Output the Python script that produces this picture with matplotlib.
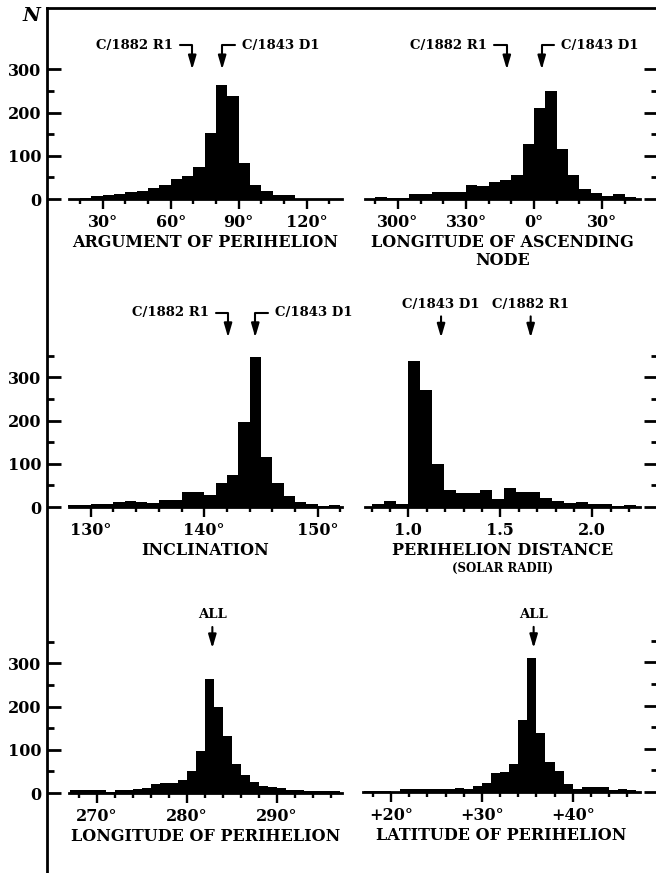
import numpy as np
import matplotlib
matplotlib.use("Agg")
import matplotlib.pyplot as plt
from matplotlib.ticker import FixedLocator, FuncFormatter

plt.rcParams["font.family"] = "DejaVu Serif"
plt.rcParams["font.weight"] = "bold"

# ---- histogram data: first bin edge, bin width, counts ----
omega_start, omega_step = 20, 5
omega_counts = [3, 7, 9, 12, 16, 19, 26, 33, 47, 54, 74, 153, 265, 239, 84, 33, 19, 9, 9]

node_start, node_step = -70, 5          # degrees, 290 deg written as -70
node_counts = [5, 2, 3, 11, 11, 17, 17, 17, 32, 30, 40, 44, 56, 128, 211, 251, 116, 56, 23, 13, 8, 11, 5]

incl_start, incl_step = 128, 1
incl_counts = [5, 5, 8, 6, 11, 14, 12, 10, 16, 16, 35, 35, 28, 56, 74, 196, 348, 115, 56, 25, 12, 6, 2, 5]

q_start, q_step = 0.805, 0.065          # solar radii
q_counts = [6, 14, 8, 339, 270, 100, 39, 33, 33, 39, 18, 44, 34, 34, 20, 14, 10, 12, 6, 6, 2, 5]

lperi_start, lperi_step = 267, 1
lperi_counts = [6, 6, 8, 6, 2, 8, 8, 10, 12, 20, 22, 22, 31, 50, 97, 265, 200, 133, 67, 41,
                25, 17, 15, 11, 8, 6, 5, 5, 5, 5]

bperi_start, bperi_step = 17, 1
bperi_counts = [2, 2, 2, 1, 6, 6, 6, 8, 6, 8, 10, 8, 15, 20, 45, 47, 65, 167, 311, 136,
                69, 49, 18, 6, 11, 11, 11, 5, 6, 4]

# ---- comet markers (label, x value) ----
omega_marks = [("C/1882 R1", 69.5), ("C/1843 D1", 82.7)]
node_marks = [("C/1882 R1", -12.0), ("C/1843 D1", 3.4)]
incl_marks = [("C/1882 R1", 142.1), ("C/1843 D1", 144.5)]
q_marks = [("C/1843 D1", 1.178), ("C/1882 R1", 1.665)]
lperi_mark = 282.85
bperi_mark = 35.7

titles = ["ARGUMENT OF PERIHELION", "LONGITUDE OF ASCENDING", "INCLINATION",
          "PERIHELION DISTANCE", "LONGITUDE OF PERIHELION", "LATITUDE OF PERIHELION"]
subtitles = [None, "NODE", None, "(SOLAR RADII)", None, None]

W, H = 656, 873
K = 0.432  # pixels per count

fig = plt.figure(figsize=(W / 100, H / 100), dpi=100)

# outer frame: left rule and top rule
frame = fig.add_axes([47 / W, 1 - 872 / H, 1.0, (872 - 8) / H])
frame.patch.set_visible(False)
for s in ("right", "bottom"):
    frame.spines[s].set_visible(False)
for s in ("left", "top"):
    frame.spines[s].set_linewidth(2.0)
frame.set_xticks([])
frame.set_yticks([])
fig.text(31 / W, 1 - 16 / H, "N", fontsize=14, style="italic", weight="bold",
         ha="center", va="center")


def deg(v, pos=None):
    return f"{v % 360:.0f}°"


def signed_deg(v, pos=None):
    return f"+{v:.0f}°"


def plain(v, pos=None):
    return f"{v:.1f}"


# layout: (axes left px, right px, baseline px, ref value, ref px, px per unit,
#          spine start px, spine end px, major step, minor step, formatter, left side)
panels = [
    (47, 342, 199, 30, 102.7, 68 / 30, 69, 342, 30, 10, deg, True),
    (360, 658, 199, 0, 534, 68 / 30, 365, 640, 30, 10, deg, False),
    (47, 342, 507, 130, 90.7, 11.35, 69, 342, 10, 2, deg, True),
    (360, 658, 507, 1.0, 408.3, 184, 365, 640, 0.5, 0.1, plain, False),
    (47, 342, 793, 270, 96.7, 9.0, 69, 342, 10, 2, deg, True),
    (360, 658, 792, 20, 391, 9.085, 363, 640, 10, 2, signed_deg, False),
]
hists = [
    (omega_start, omega_step, omega_counts),
    (node_start, node_step, node_counts),
    (incl_start, incl_step, incl_counts),
    (q_start, q_step, q_counts),
    (lperi_start, lperi_step, lperi_counts),
    (bperi_start, bperi_step, bperi_counts),
]

axes = []
for i, (pl, pr, base, ref, ref_px, scale, s0, s1, maj, mnr, fmt, left) in enumerate(panels):
    ax = fig.add_axes([pl / W, 1 - (base + 10) / H, (pr - pl) / W, 200 / H])
    ax.patch.set_visible(False)
    ax.set_xlim(ref - (ref_px - pl) / scale, ref + (pr - ref_px) / scale)
    ax.set_ylim(-10 / K, 190 / K)

    start, step, counts = hists[i]
    edges = start + step * np.arange(len(counts) + 1)
    ax.stairs(counts, edges, fill=True, color="black", linewidth=0, zorder=2)

    lo = ref + (s0 - ref_px) / scale
    hi = ref + (s1 - ref_px) / scale
    for s in ("left", "right", "top"):
        ax.spines[s].set_visible(False)
    ax.spines["bottom"].set_position(("data", 0))
    ax.spines["bottom"].set_bounds(lo, hi)
    ax.spines["bottom"].set_linewidth(2.0)
    ax.spines["bottom"].set_zorder(3)

    n0 = np.ceil((lo - 1e-9) / mnr)
    ticks = np.round(np.arange(n0, np.floor((hi + 1e-9) / mnr) + 1) * mnr, 6)
    majors = [t for t in ticks if abs(t / maj - round(t / maj)) < 1e-6]
    minors = [t for t in ticks if t not in majors]
    ax.xaxis.set_major_locator(FixedLocator(majors))
    ax.xaxis.set_minor_locator(FixedLocator(minors))
    ax.xaxis.set_major_formatter(FuncFormatter(fmt))
    ax.xaxis.set_ticks_position("bottom")
    ax.tick_params(axis="x", which="major", direction="out", length=7, width=1.7,
                   pad=3.5, labelsize=11.5)
    ax.tick_params(axis="x", which="minor", direction="out", length=3.5, width=1.7)

    ytop = 300 if i < 2 else 350
    ax.yaxis.set_major_locator(FixedLocator([0, 100, 200, 300]))
    ax.yaxis.set_minor_locator(FixedLocator(list(range(50, ytop + 1, 100))))
    if left:
        ax.yaxis.set_ticks_position("left")
        ax.tick_params(axis="y", which="both", direction="in", labelleft=True,
                       labelsize=11.5, pad=4)
    else:
        ax.yaxis.set_ticks_position("right")
        ax.tick_params(axis="y", which="both", direction="in", labelright=False)
    ax.tick_params(axis="y", which="major", length=10, width=2)
    ax.tick_params(axis="y", which="minor", length=4.75, width=2)

    mid = (lo + hi) / 2
    ax.annotate(titles[i], xy=(mid, 0), xytext=(0, -31), textcoords="offset points",
                ha="center", va="center", fontsize=11.5, annotation_clip=False)
    if subtitles[i]:
        small = subtitles[i].startswith("(")
        ax.annotate(subtitles[i], xy=(mid, 0), xytext=(0, -44.5 if small else -44),
                    textcoords="offset points", ha="center", va="center",
                    fontsize=8.5 if small else 11.5, annotation_clip=False)
    axes.append(ax)

head = "-|>,head_length=0.85,head_width=0.25"


def bent_arrow(ax, label, x, tip, side):
    ax.annotate(label, xy=(x, tip), xytext=(side * 14, 17.5), textcoords="offset points",
                ha="right" if side < 0 else "left", va="center", fontsize=9.5,
                annotation_clip=False,
                arrowprops=dict(arrowstyle=head, color="black", lw=1.5,
                                connectionstyle="angle,angleA=0,angleB=90,rad=0",
                                relpos=(1, 0.5) if side < 0 else (0, 0.5),
                                shrinkA=3, shrinkB=0))


def straight_arrow(ax, label, x, tip):
    ax.annotate(label, xy=(x, tip), xytext=(0, 24), textcoords="offset points",
                ha="center", va="center", fontsize=9.5, annotation_clip=False,
                arrowprops=dict(arrowstyle=head, color="black", lw=1.5,
                                relpos=(0.5, 0), shrinkA=2, shrinkB=0))


for ax, marks, tip in ((axes[0], omega_marks, 300), (axes[1], node_marks, 300),
                       (axes[2], incl_marks, 393)):
    bent_arrow(ax, marks[0][0], marks[0][1], tip, -1)
    bent_arrow(ax, marks[1][0], marks[1][1], tip, 1)

for label, x in q_marks:
    straight_arrow(axes[3], label, x, 392)
straight_arrow(axes[4], "ALL", lperi_mark, 335)
straight_arrow(axes[5], "ALL", bperi_mark, 333)

fig.savefig("out.png", dpi=100)
